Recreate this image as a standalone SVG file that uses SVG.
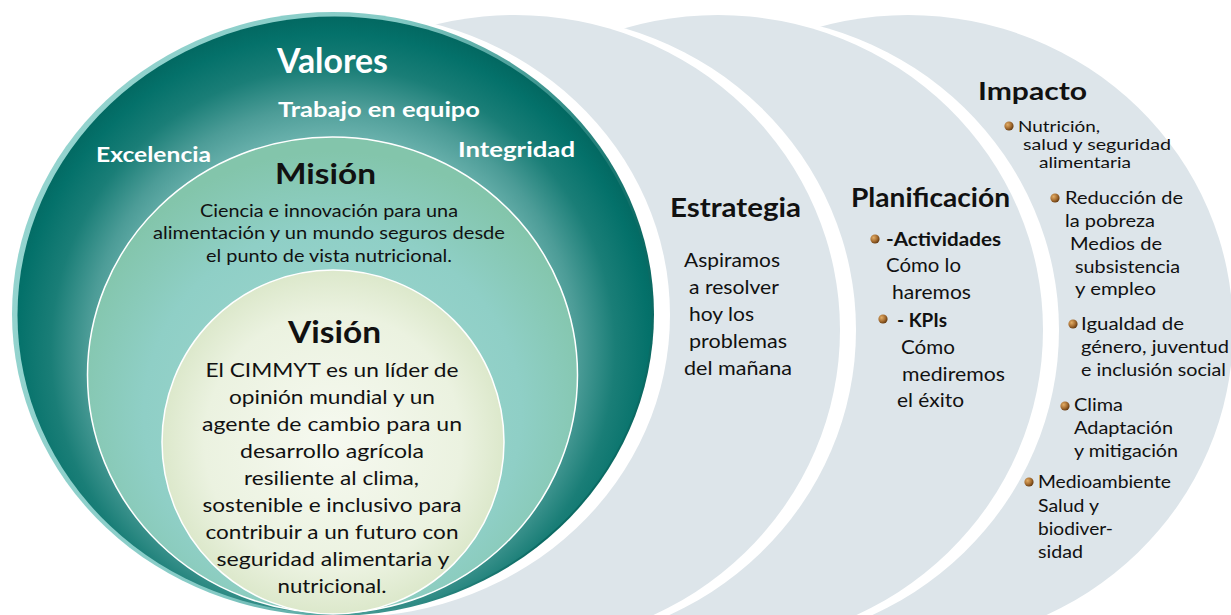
<svg xmlns="http://www.w3.org/2000/svg" width="1231" height="615" viewBox="0 0 1231 615">
<defs>
<radialGradient id="tealG" gradientUnits="userSpaceOnUse" cx="333" cy="350" r="340">
<stop offset="0" stop-color="#8ac6c1"/>
<stop offset="0.62" stop-color="#6cb3ae"/>
<stop offset="0.72" stop-color="#4c9c97"/>
<stop offset="0.83" stop-color="#1a7e77"/>
<stop offset="0.93" stop-color="#04716a"/>
<stop offset="1" stop-color="#02655e"/>
</radialGradient>
<linearGradient id="rimG" x1="0" y1="0" x2="1" y2="0.3">
<stop offset="0" stop-color="#98d6d1"/>
<stop offset="0.55" stop-color="#86cbc6"/>
<stop offset="0.85" stop-color="#2f8a84"/>
<stop offset="1" stop-color="#0b6a63"/>
</linearGradient>
<radialGradient id="misionG" cx="0.5" cy="0.58" r="0.55">
<stop offset="0" stop-color="#a2d8d3"/>
<stop offset="0.7" stop-color="#8fcfc6"/>
<stop offset="1" stop-color="#83c5ab"/>
</radialGradient>
<radialGradient id="visionG" cx="0.5" cy="0.5" r="0.5">
<stop offset="0" stop-color="#f6f9f0"/>
<stop offset="0.75" stop-color="#ebf2e0"/>
<stop offset="1" stop-color="#dce8cb"/>
</radialGradient>
<radialGradient id="bulG" cx="0.35" cy="0.35" r="0.65">
<stop offset="0" stop-color="#e2ad66"/>
<stop offset="0.6" stop-color="#a86f32"/>
<stop offset="1" stop-color="#6b3f14"/>
</radialGradient>
<style>
.wt{fill:#fff;font-family:Lato,"Open Sans","Liberation Sans",sans-serif;font-weight:700}
.bk{fill:#111;font-family:Lato,"Liberation Sans",sans-serif}
.bd{font-weight:700}
.gray{fill:#dde5ea}
.gap{fill:#fff}
.bul{fill:url(#bulG)}
.ctr{text-anchor:middle}
</style>
</defs>
<rect width="1231" height="615" fill="#fff"/>

<g id="node-impacto">
<ellipse class="gray" cx="908" cy="330" rx="325" ry="315"/>
<text class="bk bd" x="978" y="100" font-size="25" textLength="109" lengthAdjust="spacingAndGlyphs">Impacto</text>
<circle class="bul" cx="1009" cy="126" r="4.6"/>
<text class="bk" x="1018" y="132" font-size="16" textLength="82" lengthAdjust="spacingAndGlyphs">Nutrición,</text>
<text class="bk" x="1023" y="150" font-size="16" textLength="148" lengthAdjust="spacingAndGlyphs">salud y seguridad</text>
<text class="bk" x="1039" y="168" font-size="16" textLength="92" lengthAdjust="spacingAndGlyphs">alimentaria</text>
<circle class="bul" cx="1055" cy="198" r="4.6"/>
<text class="bk" x="1065" y="204" font-size="17.5" textLength="118" lengthAdjust="spacingAndGlyphs">Reducción de</text>
<text class="bk" x="1065" y="227" font-size="17.5" textLength="90" lengthAdjust="spacingAndGlyphs">la pobreza</text>
<text class="bk" x="1070" y="250" font-size="17.5" textLength="92" lengthAdjust="spacingAndGlyphs">Medios de</text>
<text class="bk" x="1075" y="273" font-size="17.5" textLength="105" lengthAdjust="spacingAndGlyphs">subsistencia</text>
<text class="bk" x="1075" y="295" font-size="17.5" textLength="81" lengthAdjust="spacingAndGlyphs">y empleo</text>
<circle class="bul" cx="1073" cy="324" r="4.6"/>
<text class="bk" x="1081" y="330" font-size="17.5" textLength="103" lengthAdjust="spacingAndGlyphs">Igualdad de</text>
<text class="bk" x="1081" y="353" font-size="17.5" textLength="148" lengthAdjust="spacingAndGlyphs">género, juventud</text>
<text class="bk" x="1081" y="376" font-size="17.5" textLength="145" lengthAdjust="spacingAndGlyphs">e inclusión social</text>
<circle class="bul" cx="1065" cy="406" r="4.6"/>
<text class="bk" x="1074" y="411" font-size="17.5" textLength="49" lengthAdjust="spacingAndGlyphs">Clima</text>
<text class="bk" x="1074" y="434" font-size="17.5" textLength="99" lengthAdjust="spacingAndGlyphs">Adaptación</text>
<text class="bk" x="1074" y="457" font-size="17.5" textLength="104" lengthAdjust="spacingAndGlyphs">y mitigación</text>
<circle class="bul" cx="1029" cy="482" r="4.6"/>
<text class="bk" x="1038" y="488" font-size="17.5" textLength="133" lengthAdjust="spacingAndGlyphs">Medioambiente</text>
<text class="bk" x="1038" y="512" font-size="17.5" textLength="61" lengthAdjust="spacingAndGlyphs">Salud y</text>
<text class="bk" x="1038" y="535" font-size="17.5" textLength="75" lengthAdjust="spacingAndGlyphs">biodiver-</text>
<text class="bk" x="1038" y="558" font-size="17.5" textLength="45" lengthAdjust="spacingAndGlyphs">sidad</text>
</g>

<g id="node-planificacion">
<ellipse class="gap" cx="734" cy="330" rx="325" ry="315"/>
<ellipse class="gray" cx="718" cy="330" rx="325" ry="315"/>
<text class="bk bd" x="851" y="207" font-size="26.5" textLength="159" lengthAdjust="spacingAndGlyphs">Planificación</text>
<circle class="bul" cx="875" cy="239" r="4.6"/>
<text class="bk bd" x="886" y="246" font-size="18" textLength="115" lengthAdjust="spacingAndGlyphs">-Actividades</text>
<text class="bk" x="886" y="272" font-size="19" textLength="75" lengthAdjust="spacingAndGlyphs">Cómo lo</text>
<text class="bk" x="892" y="299" font-size="19" textLength="79" lengthAdjust="spacingAndGlyphs">haremos</text>
<circle class="bul" cx="883" cy="319" r="4.6"/>
<text class="bk bd" x="897" y="327" font-size="18" textLength="50" lengthAdjust="spacingAndGlyphs">- KPIs</text>
<text class="bk" x="901" y="354" font-size="19" textLength="54" lengthAdjust="spacingAndGlyphs">Cómo</text>
<text class="bk" x="902" y="381" font-size="19" textLength="103" lengthAdjust="spacingAndGlyphs">mediremos</text>
<text class="bk" x="897" y="407" font-size="19" textLength="67" lengthAdjust="spacingAndGlyphs">el éxito</text>
</g>

<g id="node-estrategia">
<ellipse class="gap" cx="531" cy="330" rx="325" ry="315"/>
<ellipse class="gray" cx="515" cy="330" rx="325" ry="315"/>
<text class="bk bd" x="670" y="217" font-size="27.5" textLength="131" lengthAdjust="spacingAndGlyphs">Estrategia</text>
<text class="bk" x="684" y="267" font-size="19" textLength="96" lengthAdjust="spacingAndGlyphs">Aspiramos</text>
<text class="bk" x="689" y="294" font-size="19" textLength="90" lengthAdjust="spacingAndGlyphs">a resolver</text>
<text class="bk" x="689" y="321" font-size="19" textLength="65" lengthAdjust="spacingAndGlyphs">hoy los</text>
<text class="bk" x="689" y="348" font-size="19" textLength="98" lengthAdjust="spacingAndGlyphs">problemas</text>
<text class="bk" x="684" y="375" font-size="19" textLength="108" lengthAdjust="spacingAndGlyphs">del mañana</text>
</g>

<g id="node-valores">
<ellipse class="gap" cx="349" cy="315" rx="321" ry="302"/>
<ellipse cx="333" cy="314" rx="321" ry="302" fill="url(#rimG)"/>
<ellipse cx="334.5" cy="315" rx="317" ry="298.5" fill="url(#tealG)"/>
<text class="wt ctr" x="332.5" y="73" font-size="34" textLength="111" lengthAdjust="spacingAndGlyphs">Valores</text>
<text class="wt ctr" x="379" y="117" font-size="21" textLength="202" lengthAdjust="spacingAndGlyphs">Trabajo en equipo</text>
<text class="wt" x="96" y="162" font-size="21" textLength="115" lengthAdjust="spacingAndGlyphs">Excelencia</text>
<text class="wt" x="458" y="157" font-size="21" textLength="117" lengthAdjust="spacingAndGlyphs">Integridad</text>
</g>

<g id="node-mision">
<ellipse cx="332.5" cy="375" rx="245" ry="238" fill="url(#misionG)" stroke="#ffffff" stroke-width="1.5"/>
<text class="bk bd ctr" x="325.5" y="184" font-size="29" textLength="101" lengthAdjust="spacingAndGlyphs">Misión</text>
<text class="bk ctr" x="329" y="217" font-size="17.5" textLength="258" lengthAdjust="spacingAndGlyphs">Ciencia e innovación para una</text>
<text class="bk ctr" x="329" y="239" font-size="17.5" textLength="352" lengthAdjust="spacingAndGlyphs">alimentación y un mundo seguros desde</text>
<text class="bk ctr" x="329" y="262" font-size="17.5" textLength="246" lengthAdjust="spacingAndGlyphs">el punto de vista nutricional.</text>
</g>

<g id="node-vision">
<ellipse cx="333" cy="442" rx="171" ry="172" fill="url(#visionG)" stroke="#ffffff" stroke-width="1.5"/>
<text class="bk bd ctr" x="334.5" y="343" font-size="31" textLength="93" lengthAdjust="spacingAndGlyphs">Visión</text>
<text class="bk ctr" x="332" y="377" font-size="20" textLength="253" lengthAdjust="spacingAndGlyphs">El CIMMYT es un líder de</text>
<text class="bk ctr" x="332" y="404" font-size="20" textLength="206" lengthAdjust="spacingAndGlyphs">opinión mundial y un</text>
<text class="bk ctr" x="332" y="431" font-size="20" textLength="260" lengthAdjust="spacingAndGlyphs">agente de cambio para un</text>
<text class="bk ctr" x="332" y="458" font-size="20" textLength="184" lengthAdjust="spacingAndGlyphs">desarrollo agrícola</text>
<text class="bk ctr" x="331.5" y="485" font-size="20" textLength="175" lengthAdjust="spacingAndGlyphs">resiliente al clima,</text>
<text class="bk ctr" x="332" y="512" font-size="20" textLength="259" lengthAdjust="spacingAndGlyphs">sostenible e inclusivo para</text>
<text class="bk ctr" x="332" y="539" font-size="20" textLength="253" lengthAdjust="spacingAndGlyphs">contribuir a un futuro con</text>
<text class="bk ctr" x="333" y="566" font-size="20" textLength="233" lengthAdjust="spacingAndGlyphs">seguridad alimentaria y</text>
<text class="bk ctr" x="332" y="593" font-size="20" textLength="109" lengthAdjust="spacingAndGlyphs">nutricional.</text>
</g>
</svg>
